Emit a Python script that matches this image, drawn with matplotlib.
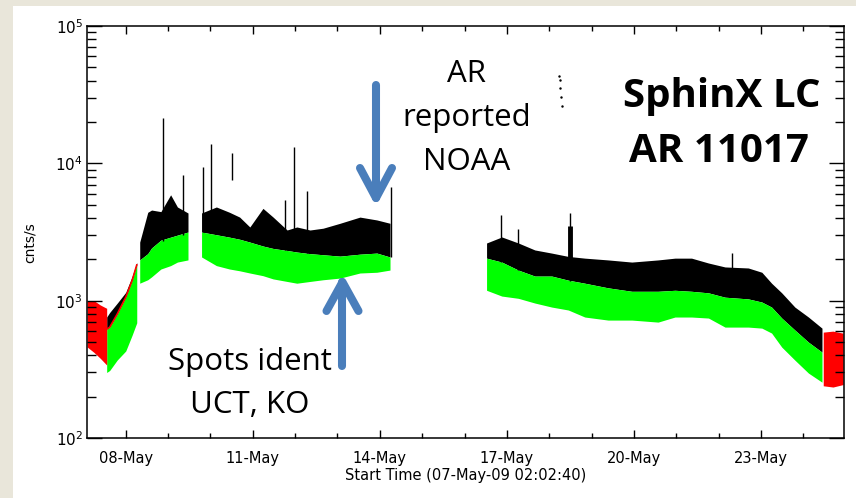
import matplotlib
matplotlib.use('Agg')
import matplotlib.pyplot as plt
from matplotlib.lines import Line2D
from matplotlib.patches import Rectangle
from matplotlib.ticker import FixedLocator, FixedFormatter, LogLocator, NullFormatter

# time axis: days since 07-May-2009 00:00, rates in cnts/s
t_start = 2.0 / 24 + 2.0 / 1440 + 40.0 / 86400   # 07-May-09 02:02:40
t_end = 17.96

tick_days = [1, 4, 7, 10, 13, 16]
tick_labels = ['08-May', '11-May', '14-May', '17-May', '20-May', '23-May']
minor_days = [2, 3, 5, 6, 8, 9, 11, 12, 14, 15, 17]

# red points at the start of the series
red1_t = [0.09, 0.25, 0.40, 0.55]
red1_top = [990, 1000, 930, 880]
red1_bot = [460, 420, 380, 340]

# rising part, 07/08 May
segB_t = [0.55, 0.62, 0.80, 1.00, 1.15, 1.26]
segB_top = [760, 820, 960, 1150, 1500, 1900]
segB_mid = [620, 640, 800, 1060, 1400, 1820]
segB_bot = [300, 310, 370, 430, 560, 690]

# 08-09 May
segC_t = [1.33, 1.52, 1.61, 1.83, 2.06, 2.22, 2.47]
segC_top = [2670, 4400, 4570, 4450, 5900, 4810, 4350]
segC_mid = [1980, 2200, 2420, 2760, 2900, 3000, 3160]
segC_bot = [1340, 1420, 1490, 1700, 1800, 1910, 1980]

# 09-14 May
segD_t = [2.79, 3.14, 3.45, 3.69, 3.93, 4.24, 4.48, 4.81, 5.04, 5.35, 5.66,
          6.06, 6.53, 6.93, 7.24]
segD_top = [4350, 4810, 4400, 4060, 3440, 4700, 4060, 3270, 3440, 3270, 3370,
            3660, 4060, 3870, 3660]
segD_mid = [3160, 3020, 2900, 2800, 2670, 2500, 2400, 2320, 2260, 2200, 2160,
            2110, 2180, 2220, 2080]
segD_bot = [2080, 1800, 1700, 1650, 1590, 1520, 1440, 1380, 1340, 1380, 1420,
            1460, 1590, 1610, 1670]

# 16-24 May
segE_t = [9.52, 9.88, 10.27, 10.66, 11.06, 11.45, 11.84, 12.39, 12.95, 13.57, 13.97,
          14.36, 14.76, 15.15, 15.70, 16.02, 16.25, 16.49, 16.80, 17.12, 17.44]
segE_top = [2630, 2910, 2630, 2340, 2220, 2100, 2040, 1980, 1910, 1980, 2040,
            2040, 1880, 1760, 1730, 1610, 1340, 1140, 898, 760, 631]
segE_mid = [2040, 1910, 1670, 1510, 1510, 1410, 1340, 1240, 1170, 1170, 1190,
            1170, 1140, 1060, 1030, 977, 898, 747, 611, 499, 422]
segE_bot = [1190, 1080, 1040, 961, 898, 855, 760, 722, 722, 698, 760,
            760, 747, 642, 642, 631, 581, 459, 369, 297, 255]

# red points at the end
red2_t = [17.47, 17.70, 17.94]
red2_top = [590, 600, 580]
red2_bot = [240, 235, 245]

# flare spikes
spike_t = [1.874, 2.347, 2.819, 3.008, 4.756, 4.969, 5.276, 7.26, 9.86, 10.26, 11.49, 15.32]
spike_base = [2700, 3000, 3160, 3100, 2340, 2300, 2240, 2080, 1920, 1680, 1400, 1090]
spike_peak = [21400, 8220, 9400, 13800, 5400, 13100, 6300, 6700, 4200, 3300, 4330, 2220]

# detached bits
iso_t = [3.504]
iso_lo = [7550]
iso_hi = [11900]
dots_t = [11.236, 11.25, 11.26, 11.27, 11.30]
dots_v = [43300, 40400, 35300, 30400, 26100]

green = '#00FF00'
blue = '#4A7EBB'

fig = plt.figure(figsize=(8.56, 4.98), dpi=100)
fig.patch.set_facecolor('#E9E6DA')
fig.add_artist(Rectangle((13 / 856, 0), 1, 492 / 498, transform=fig.transFigure,
                         facecolor='white', edgecolor='none', zorder=-1))

ax = fig.add_axes([87 / 856, 1 - 438 / 498, 757 / 856, 412 / 498])
ax.set_yscale('log')

for t, top, mid, bot in [(segB_t, segB_top, segB_mid, segB_bot),
                         (segC_t, segC_top, segC_mid, segC_bot),
                         (segD_t, segD_top, segD_mid, segD_bot),
                         (segE_t, segE_top, segE_mid, segE_bot)]:
    ax.fill_between(t, mid, top, color='black', lw=0)
    ax.fill_between(t, bot, mid, color=green, lw=0)
ax.plot(segB_t, segB_mid, color='red', lw=1.2)

ax.fill_between(red1_t, red1_bot, red1_top, color='red', lw=0)
ax.fill_between(red2_t, red2_bot, red2_top, color='red', lw=0)

ax.vlines(spike_t, spike_base, spike_peak, color='black', lw=1.0)
ax.vlines([11.49], [1900], [3500], color='black', lw=3.5)
ax.vlines(iso_t, iso_lo, iso_hi, color='black', lw=1.0)
ax.plot(dots_t, dots_v, 'k.', ms=1.5)

ax.set_xlim(t_start, t_end)
ax.set_ylim(1e2, 1e5)

ax.xaxis.set_major_locator(FixedLocator(tick_days))
ax.xaxis.set_major_formatter(FixedFormatter(tick_labels))
ax.xaxis.set_minor_locator(FixedLocator(minor_days))
ax.yaxis.set_minor_locator(LogLocator(base=10, subs=range(2, 10)))
ax.yaxis.set_minor_formatter(NullFormatter())

ax.tick_params(which='both', direction='in', top=True, right=True, width=1.0)
ax.tick_params(axis='x', which='major', length=6, labelsize=10.5, pad=9)
ax.tick_params(axis='x', which='minor', length=3.6)
ax.tick_params(axis='y', which='major', length=10.5, labelsize=11, pad=3)
ax.tick_params(axis='y', which='minor', length=6.5)
for s in ax.spines.values():
    s.set_linewidth(1.1)

ax.set_xlabel('Start Time (07-May-09 02:02:40)', fontsize=10.5)
ax.xaxis.set_label_coords(0.5, -0.072)
ax.set_ylabel('cnts/s', fontsize=10)
ax.yaxis.set_label_coords(-0.066, 0.473)

# slide annotations drawn in pixel coordinates
ov = fig.add_axes([0, 0, 1, 1], zorder=5)
ov.set_xlim(0, 856)
ov.set_ylim(498, 0)
ov.axis('off')

font = 'Open Sans'
ov.text(467, 82, 'AR', fontsize=22.5, family=font, ha='center', va='baseline')
ov.text(467, 126, 'reported', fontsize=22.5, family=font, ha='center', va='baseline')
ov.text(467, 170, 'NOAA', fontsize=22.5, family=font, ha='center', va='baseline')
ov.text(722, 107, 'SphinX LC', fontsize=29, family=font, weight='bold', ha='center', va='baseline')
ov.text(719, 162, 'AR 11017', fontsize=29, family=font, weight='bold', ha='center', va='baseline')
ov.text(250, 370, 'Spots ident', fontsize=22.5, family=font, ha='center', va='baseline')
ov.text(250, 413, 'UCT, KO', fontsize=22.5, family=font, ha='center', va='baseline')


def arrow(x, y0, y1, dy):
    kw = dict(color=blue, lw=5.8, solid_capstyle='round', solid_joinstyle='round')
    ov.add_line(Line2D([x, x], [y0, y1], **kw))
    ov.add_line(Line2D([x - 16, x, x + 16], [y1 + dy, y1, y1 + dy], **kw))


arrow(376, 85, 198, -30)
arrow(342.5, 366, 282, 29)

fig.savefig('out.png', dpi=100)
